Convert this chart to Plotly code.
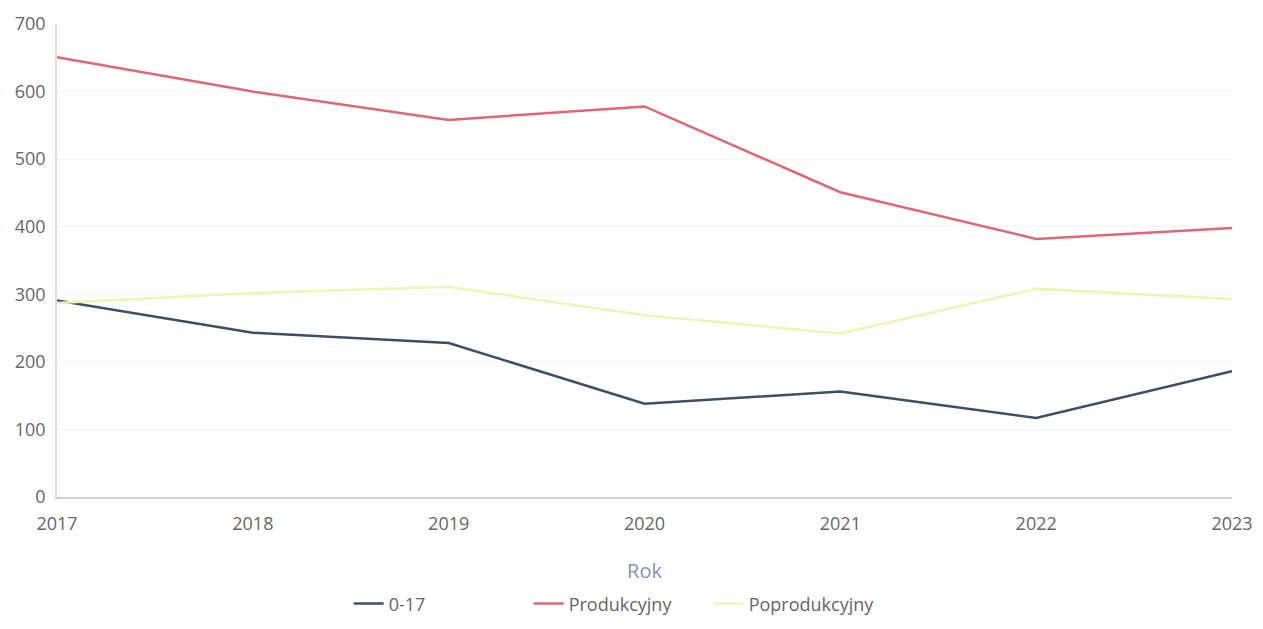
import plotly.graph_objects as go

years = [2017, 2018, 2019, 2020, 2021, 2022, 2023]
s_017 = [291, 243, 228, 138, 156, 117, 186]
s_prod = [651, 600, 558, 578, 451, 382, 398]
s_poprod = [287, 302, 311, 269, 242, 308, 293]

fig = go.Figure()
fig.add_trace(go.Scatter(x=years, y=s_017, mode="lines", name="0-17",
                         line=dict(color="#3e4e66", width=2.5)))
fig.add_trace(go.Scatter(x=years, y=s_prod, mode="lines", name="Produkcyjny",
                         line=dict(color="#df6673", width=2.5)))
fig.add_trace(go.Scatter(x=years, y=s_poprod, mode="lines", name="Poprodukcyjny",
                         line=dict(color="#eef4b4", width=2.5)))

fig.update_layout(
    width=1247, height=613,
    margin=dict(l=49, r=23, t=16, b=124, autoexpand=False),
    paper_bgcolor="white", plot_bgcolor="white",
    font=dict(family="Open Sans", size=18, color="#666666"),
    showlegend=True,
    legend=dict(orientation="h", x=0.478, xanchor="center", y=-0.226, yanchor="middle",
                entrywidth=135, font=dict(size=18, color="#666666")),
    xaxis=dict(range=[2017, 2023], tickvals=years, ticktext=[str(y) for y in years],
               showgrid=False, showline=True, linecolor="#cfcfcf", linewidth=2,
               zeroline=False, ticks="", automargin=False, ticklabelstandoff=9,
               title=dict(text="Rok", font=dict(size=20, color="#8a90b0"), standoff=30)),
    yaxis=dict(range=[0, 700], dtick=100, showgrid=True, gridcolor="#f6f6f6",
               showline=True, linecolor="#e0e0e0", linewidth=1.5, zeroline=False,
               ticks="", ticklabelstandoff=6, automargin=False),
)

fig.write_html("out.html")
